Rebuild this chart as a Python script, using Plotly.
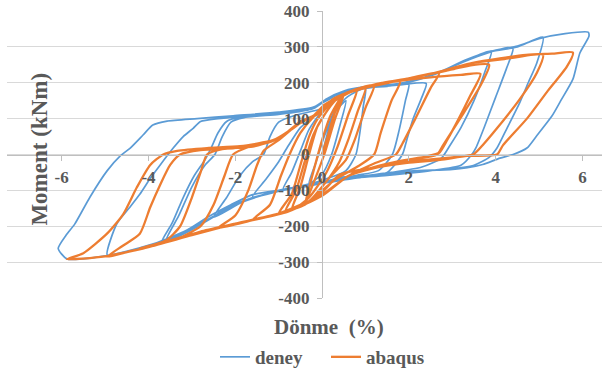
import plotly.graph_objects as go

# ---------------- data ----------------
deney_x = [
    0, 0.15, 0.3, 0.55,
    0.42, 0.22, 0.0, -0.3,
    -0.15, 0.05, 0.3, 0.6, 1.0,
    0.95, 0.87, 0.78, 0.55, 0.0, -0.5, -0.9,
    -0.7, -0.5, -0.3, 0.0, 0.4, 1.0, 1.5, 2.0,
    1.92, 1.78, 1.62, 1.3, 0.8, 0.0, -0.8, -1.6,
    -1.3, -1.0, -0.8, -0.5, -0.2, 0.2, 0.6, 1.2, 1.8, 2.4,
    2.3, 2.1, 1.95, 1.85, 1.5, 1.0, 0.0, -1.0, -1.8, -2.5,
    -2.2, -1.9, -1.6, -1.35, -1.2, -1.0, -0.6, 0.0, 0.4, 1.0, 1.6, 2.2, 2.7, 3.3, 3.9,
    3.75, 3.5, 3.2, 2.95, 2.75, 2.3, 1.6, 0.8, 0.0, -0.8, -1.6, -2.2, -3.0, -3.6,
    -3.3, -3.0, -2.7, -2.47, -2.3, -2.1, -1.8, -1.0, -0.3, 0.1, 0.5, 1.2, 2.0, 2.8, 3.4, 4.0, 4.4,
    4.25, 4.0, 3.75, 3.55, 3.45, 3.2, 2.5, 1.5, 0.5, 0.0, -1.0, -2.0, -2.8, -3.4, -3.7,
    -3.45, -3.2, -2.95, -2.7, -2.55, -2.4, -2.2, -1.9, -1.0, -0.2, 0.1, 0.5, 1.0, 1.6, 2.2, 2.7, 3.3, 3.9, 4.5, 5.09,
    4.95, 4.75, 4.56, 4.26, 4.03, 3.85, 3.5, 2.8, 2.0, 1.0, 0.3, 0.0, -1.0, -2.0, -3.0, -4.0, -4.5, -4.95,
    -4.73, -4.45, -4.2, -3.95, -3.73, -3.43, -3.2, -2.97, -2.8, -2.4, -1.6, -0.8, -0.2, 0.1, 0.5, 1.0, 1.6, 2.2, 2.7, 3.3, 3.9, 4.5, 5.0, 5.6, 6.13, 6.15,
    5.94, 5.78, 5.5, 5.3, 4.95, 4.72, 4.4, 4.1, 3.7, 3.35, 2.95, 2.03, 1.04, 0.4, 0.0, -0.5, -1.0, -1.6, -2.1, -2.6, -3.1, -3.6, -4.2, -4.8, -5.3, -5.88, -6.08,
    -5.9, -5.7, -5.35, -4.95, -4.65, -4.42, -4.12, -3.9, -3.57, -2.88, -2.05, -1.0, -0.2, 0.1,
]
deney_y = [
    0, 70, 118, 150,
    85, 0, -55, -80,
    -25, 50, 125, 162, 185,
    135, 60, 0, -45, -72, -88, -98,
    -50, 10, 70, 120, 165, 186, 190, 200,
    150, 70, 0, -45, -58, -76, -96, -118,
    -70, -20, 20, 75, 105, 145, 175, 188, 194, 198,
    160, 100, 40, 0, -50, -62, -80, -100, -130, -175,
    -120, -60, -20, 0, 50, 90, 110, 128, 165, 188, 193, 210, 228, 262, 288,
    230, 150, 75, 26, -10, -35, -50, -62, -80, -97, -120, -150, -210, -242,
    -170, -90, -30, 0, 50, 90, 103, 112, 125, 150, 175, 190, 202, 235, 265, 290, 298,
    240, 160, 80, 20, 0, -30, -45, -58, -68, -78, -100, -140, -195, -232, -245,
    -190, -120, -60, -15, 20, 60, 92, 104, 114, 128, 152, 176, 188, 192, 208, 228, 262, 287, 300, 327,
    256, 200, 146, 73, 18, -8, -30, -42, -48, -60, -68, -78, -100, -140, -205, -255, -270, -280,
    -193, -150, -111, -65, -29, 18, 50, 73, 92, 100, 108, 116, 128, 155, 177, 189, 193, 210, 229, 263, 288, 302, 323, 337, 341, 330,
    283, 210, 150, 108, 53, 18, 0, -10, -28, -37, -42, -46, -59, -64, -80, -92, -100, -112, -140, -172, -210, -238, -260, -278, -288, -291, -262,
    -225, -194, -119, -45, -4, 18, 55, 82, 93, 100, 108, 118, 132, 155,
]

abaqus_x = [
    0, 0.15, 0.3, 0.5,
    0.3, 0.05, -0.2, -0.4,
    -0.25, 0.0, 0.2, 0.5, 0.8,
    0.6, 0.35, 0.1, -0.3, -0.7,
    -0.5, -0.3, -0.1, 0.3, 0.7, 1.0,
    0.82, 0.6, 0.4, 0.1, -0.3, -0.85,
    -0.6, -0.4, -0.2, 0.0, 0.3, 0.8, 1.2,
    1.0, 0.75, 0.55, 0.2, -0.3, -1.0,
    -0.7, -0.5, -0.3, -0.1, 0.3, 1.0, 1.8,
    1.6, 1.35, 1.2, 0.8, 0.3, -0.4, -1.0, -1.6,
    -1.2, -0.95, -0.75, -0.5, -0.2, 0.3, 1.0, 2.0, 2.7,
    2.5, 2.15, 1.85, 1.7, 1.2, 0.6, 0.0, -0.8, -1.6, -2.4,
    -2.0, -1.7, -1.5, -1.35, -1.0, -0.6, -0.2, 0.1, 0.6, 1.5, 2.5, 3.2, 3.65,
    3.41, 3.15, 2.88, 2.7, 2.42, 1.8, 1.2, 0.6, 0.0, -1.0, -2.0, -2.8, -3.3,
    -2.8, -2.5, -2.25, -2.05, -1.6, -1.1, -0.8, -0.5, -0.2, 0.05, 0.5, 1.2, 2.0, 2.8, 3.4, 3.85,
    3.64, 3.18, 2.79, 2.65, 2.0, 1.2, 0.6, 0.0, -1.0, -2.0, -3.0, -3.6, -4.2,
    -3.6, -3.27, -3.0, -2.8, -2.65, -2.3, -1.6, -1.1, -0.8, -0.5, -0.2, 0.05, 0.5, 1.5, 2.5, 3.5, 4.2, 5.09,
    4.95, 4.56, 4.03, 3.7, 3.48, 3.0, 2.0, 1.2, 0.6, 0.0, -1.0, -2.0, -3.0, -4.0, -4.5, -4.95,
    -4.6, -4.2, -3.96, -3.73, -3.5, -3.27, -2.8, -2.0, -1.4, -1.0, -0.7, -0.4, -0.1, 0.1, 0.5, 1.0, 2.0, 3.0, 3.5, 4.7, 5.3, 5.78,
    5.64, 5.18, 4.72, 4.17, 4.03, 3.34, 2.72, 1.96, 1.18, 0.41, 0.0, -0.5, -1.0, -2.0, -3.0, -4.0, -4.5, -5.0, -5.5, -5.88,
    -5.5, -4.95, -4.58, -4.27, -3.96, -3.66, -3.34, -2.65, -1.89, -1.13, -0.8, -0.5, -0.2, 0.03, 0.4,
]
abaqus_y = [
    0, 60, 120, 165,
    100, 0, -80, -140,
    -70, 40, 110, 168, 180,
    110, 20, -50, -120, -155,
    -90, 0, 80, 150, 178, 186,
    120, 40, -20, -75, -130, -160,
    -100, -20, 55, 100, 150, 182, 193,
    130, 40, -15, -60, -130, -165,
    -110, -30, 50, 100, 155, 188, 205,
    150, 60, 0, -35, -70, -140, -165, -182,
    -140, -60, 0, 60, 105, 158, 188, 212, 228,
    185, 100, 30, 0, -25, -60, -115, -160, -183, -205,
    -170, -100, -30, 10, 40, 80, 108, 140, 172, 200, 215, 222, 225,
    163, 100, 40, 5, -5, -18, -35, -60, -112, -165, -193, -215, -235,
    -200, -140, -60, 0, 25, 40, 63, 92, 108, 138, 168, 195, 212, 232, 248, 250,
    190, 100, 26, 0, -15, -36, -60, -115, -165, -193, -222, -243, -262,
    -240, -200, -120, -50, 0, 15, 22, 40, 63, 92, 108, 138, 168, 200, 225, 256, 266, 278,
    228, 155, 73, 26, 0, -8, -20, -38, -60, -115, -165, -193, -222, -258, -272, -285,
    -255, -221, -147, -84, -29, 0, 12, 18, 28, 45, 70, 97, 112, 140, 168, 186, 212, 237, 256, 278, 281, 284,
    245, 174, 100, 26, 0, -4, -15, -23, -37, -56, -105, -145, -165, -193, -225, -258, -272, -284, -290, -292,
    -275, -220, -166, -92, -29, 0, 10, 18, 23, 40, 63, 92, 108, 135, 160,
]

x_ticks = [-6, -4, -2, 0, 2, 4, 6]
y_ticks = [-400, -300, -200, -100, 0, 100, 200, 300, 400]
series_names = ["deney", "abaqus"]
x_title = "Dönme\u00a0 (%)"
y_title = "Moment (kNm)"

# ---------------- figure ----------------
BLUE = "#5B9BD5"
ORANGE = "#ED7D31"
GREY = "#595959"
FONT = "Liberation Serif"

fig = go.Figure()
fig.add_trace(go.Scatter(x=deney_x, y=deney_y, mode="lines", name=series_names[0],
                         line=dict(color=BLUE, width=1.7, shape="spline", smoothing=0.6)))
fig.add_trace(go.Scatter(x=abaqus_x, y=abaqus_y, mode="lines", name=series_names[1],
                         line=dict(color=ORANGE, width=2.3, shape="spline", smoothing=0.6)))

L, R, T, B = 7, 0, 11, 73
W, H = 602, 376
pw = W - L - R
ph = H - T - B

def px_x(px):
    return (px - L) / pw

def px_y(py):
    return (H - B - py) / ph

tickfont = dict(family=FONT, size=17, color=GREY, weight="bold")

fig.update_layout(
    width=W, height=H,
    margin=dict(l=L, r=R, t=T, b=B, pad=0),
    paper_bgcolor="white", plot_bgcolor="white",
    showlegend=True,
    legend=dict(orientation="h", x=px_x(326), xanchor="center", y=px_y(363), yanchor="middle",
                font=dict(family=FONT, size=19, color=GREY, weight="bold"),
                bgcolor="rgba(0,0,0,0)", itemwidth=30, traceorder="normal",
                entrywidth=66, entrywidthmode="pixels"),
    xaxis=dict(range=[-7.26, 6.45], anchor="free", position=0.5,
               tickvals=x_ticks, ticktext=[str(v) for v in x_ticks],
               showgrid=False, zeroline=False, showline=True, linecolor="#bfbfbf", linewidth=1.3,
               ticks="outside", ticklen=5, tickcolor="#bfbfbf", tickfont=tickfont,
               ticklabelstandoff=2, fixedrange=True),
    yaxis=dict(range=[-400, 400], anchor="free", position=px_x(322),
               tickvals=y_ticks, ticktext=[str(v) for v in y_ticks],
               showgrid=True, gridcolor="#d9d9d9", gridwidth=1.3, zeroline=False,
               showline=True, linecolor="#bfbfbf", linewidth=1.3,
               ticks="outside", ticklen=5, tickcolor="#bfbfbf", tickfont=tickfont,
               ticklabelstandoff=4, fixedrange=True),
    annotations=[
        dict(text=y_title, xref="paper", yref="paper", x=px_x(40), y=px_y(152),
             textangle=-90, showarrow=False, xanchor="center", yanchor="middle",
             font=dict(family=FONT, size=23, color=GREY, weight="bold")),
        dict(text=x_title, xref="paper", yref="paper", x=px_x(329), y=px_y(333),
             showarrow=False, xanchor="center", yanchor="middle",
             font=dict(family=FONT, size=21, color=GREY, weight="bold")),
    ],
)

fig.write_html("out.html")
